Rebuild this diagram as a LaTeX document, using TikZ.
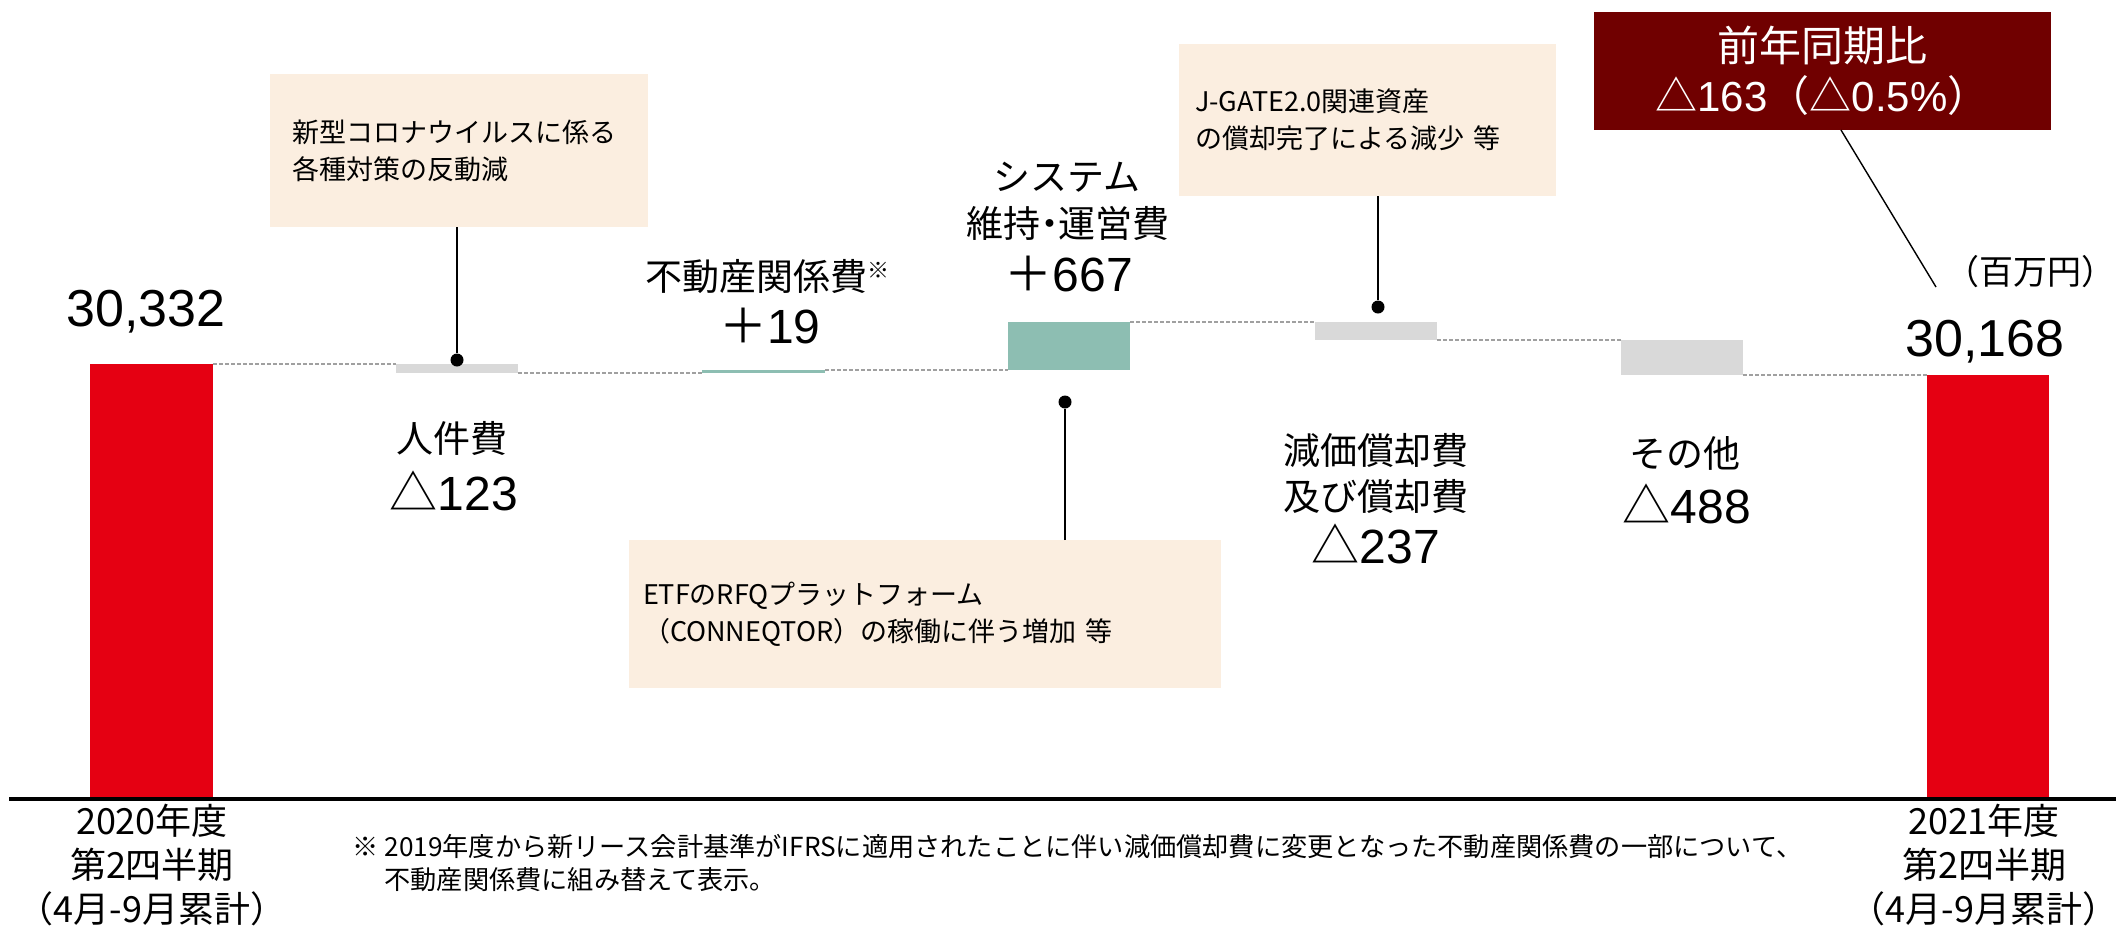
\documentclass[tikz,border=0pt]{standalone}
\usepackage{fontspec}
\setmainfont{Noto Sans CJK JP}
\newfontfamily\arial{Liberation Sans}
\definecolor{barred}{RGB}{229,0,18}
\definecolor{bargreen}{RGB}{141,190,178}
\definecolor{bargray}{RGB}{217,217,217}
\definecolor{linkgray}{RGB}{160,160,160}
\definecolor{calloutbg}{RGB}{251,238,224}
\definecolor{sumred}{RGB}{112,0,0}
\begin{document}
\begin{tikzpicture}[x=0.5pt,y=-0.5pt,
  bar/.style={draw=none, inner sep=0pt, outer sep=0pt, anchor=north west},
  redbar/.style={bar, fill=barred},
  greenbar/.style={bar, fill=bargreen},
  graybar/.style={bar, fill=bargray},
  link/.style={draw=linkgray, line width=0.6pt, dash pattern=on 2pt off 1pt},
  callout/.style={fill=calloutbg, inner ysep=0pt, outer sep=0pt, anchor=north west, align=left,
    font=\fontsize{13.5pt}{18.5pt}\selectfont},
  leader/.style={draw=black, line width=1pt},
  dot/.style={circle, fill=black, inner sep=0pt, minimum size=6.5pt},
  catlabel/.style={inner sep=0pt, font=\fontsize{18.5pt}{23pt}\selectfont},
  numlabel/.style={inner sep=0pt, font=\fontsize{24pt}{28pt}\selectfont},
  total/.style={inner sep=0pt, font=\fontsize{26pt}{30pt}\selectfont\arial},
  axislabel/.style={inner sep=0pt, align=center, font=\fontsize{18pt}{21.8pt}\selectfont},
  note/.style={inner sep=0pt, anchor=west, font=\fontsize{13.1pt}{15pt}\selectfont},
  summary/.style={fill=sumred, text=white, inner sep=0pt, outer sep=0pt, anchor=north west, align=center,
    font=\fontsize{21pt}{25pt}\selectfont}
]
\useasboundingbox (0,0) rectangle (2116,928);

% bars
\node[redbar,   minimum width=61.5pt, minimum height=216.5pt] (b0) at (90,364) {};
\node[graybar,  minimum width=61pt,   minimum height=4.5pt]   (b1) at (396,364) {};
\node[greenbar, minimum width=61.5pt, minimum height=1.5pt]   (b2) at (702,370) {};
\node[greenbar, minimum width=61pt,   minimum height=24pt]    (b3) at (1008,322) {};
\node[graybar,  minimum width=61pt,   minimum height=9pt]     (b4) at (1315,322) {};
\node[graybar,  minimum width=61pt,   minimum height=17.5pt]  (b5) at (1621,340) {};
\node[redbar,   minimum width=61pt,   minimum height=211pt]   (b6) at (1927,375) {};

% dashed links between bars
\draw[link] (b0.north east) -- (b1.north west);
\draw[link] (b1.south east) -- (b2.south west);
\draw[link] (b2.north east) -- (b3.south west);
\draw[link] (b3.north east) -- (b4.north west);
\draw[link] (b4.south east) -- (b5.north west);
\draw[link] (b5.south east) -- (b6.north west);

% axis
\draw[line width=2pt] (9,799) -- (2116,799);

% totals
\node[total] (t0) at (146,312) {30,332};
\node[total] (t6) at (1985,342) {30,168};
\node[inner sep=0pt, font=\fontsize{17pt}{20pt}\selectfont] (unit) at (2030,272) {（百万円）};

% category labels
\node[catlabel] (l1a) at (452,438) {人件費};
\node[numlabel] (l1b) at (454,491) {△{\arial 123}};
\node[catlabel] (l2a) at (767,277) {不動産関係費\raisebox{0.35em}{\fontsize{11pt}{11pt}\selectfont ※}};
\node[numlabel] (l2b) at (770,326) {＋{\arial 19}};
\node[catlabel] (l3a) at (1067,177) {システム};
\node[catlabel] (l3b) at (1068,223) {維持\kern-0.25em・\kern-0.25em 運営費};
\node[numlabel] (l3c) at (1069,274) {＋{\arial 667}};
\node[catlabel] (l4a) at (1376,450) {減価償却費};
\node[catlabel] (l4b) at (1376,496) {及び償却費};
\node[numlabel] (l4c) at (1376,544) {△{\arial 237}};
\node[catlabel] (l5a) at (1685,453) {その他};
\node[numlabel] (l5b) at (1687,504) {△{\arial 488}};

% callouts
\node[callout, inner xsep=11pt, text width=167pt, minimum height=76.5pt] (c1) at (270,74)
  {新型コロナウイルスに係る\\各種対策の反動減};
\node[callout, inner xsep=7pt, text width=282pt, minimum height=74pt] (c2) at (629,540)
  {ETFのRFQプラットフォーム\\（CONNEQTOR）の稼働に伴う増加 等};
\node[callout, inner xsep=8pt, text width=172.5pt, minimum height=76pt] (c3) at (1179,44)
  {J-GATE2.0関連資産\\の償却完了による減少 等};

\node[dot] (d1) at (457,360) {};
\node[dot] (d2) at (1065,402) {};
\node[dot] (d3) at (1378,307) {};
\draw[leader] (d1 |- c1.south) -- (d1);
\draw[leader] (d2 |- c2.north) -- (d2);
\draw[leader] (d3 |- c3.south) -- (d3);

% summary box
\node[summary, minimum width=228.5pt, minimum height=59pt] (s) at (1594,12)
  {前年同期比\\△{\arial 163}（△{\arial 0.5\%}）};
\coordinate (sl) at (1841,130);
\coordinate (se) at (1936,287);
\draw[line width=0.7pt] (sl |- s.south) -- (se);

% axis labels
\node[axislabel] (a0) at (152,865) {2020年度\\第2四半期\\（4月-9月累計）};
\node[axislabel] (a6) at (1984,865) {2021年度\\第2四半期\\（4月-9月累計）};

% footnote
\node[note] (n1) at (352,847) {※ 2019年度から新リース会計基準がIFRSに適用されたことに伴い減価償却費に変更となった不動産関係費の一部について、};
\node[note] (n2) at (384,880) {不動産関係費に組み替えて表示。};
\end{tikzpicture}
\end{document}
